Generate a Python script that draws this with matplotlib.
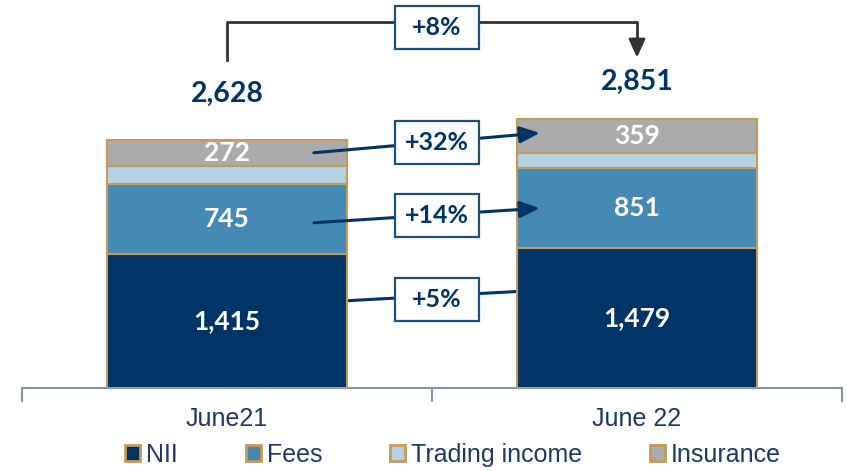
import matplotlib
matplotlib.use("Agg")
import matplotlib.pyplot as plt
from matplotlib.patches import Patch, Rectangle

categories = ["June21", "June 22"]
series_names = ["NII", "Fees", "Trading income", "Insurance"]
nii = [1415, 1479]
fees = [745, 851]
trading = [196, 162]
insurance = [272, 359]
totals = [2628, 2851]
growth_labels = ["+5%", "+14%", "+32%"]
total_growth = "+8%"

colors = ["#003366", "#4589b5", "#b4d2e4", "#ababab"]
edge = "#c49a5a"
navy = "#003366"
text_col = "#1f3864"

plt.rcParams["font.family"] = ["Liberation Sans", "DejaVu Sans"]

fig = plt.figure(figsize=(8.47, 4.71), dpi=100)
ax = fig.add_axes([22 / 847, 83 / 471, 820 / 847, 377.6 / 471])
ax.set_xlim(-0.5, 1.5)
ax.set_ylim(0, 4000)

x = [0, 1]
w = 0.585
series = [nii, fees, trading, insurance]
bottoms = [0, 0]
for vals, c, name in zip(series, colors, series_names):
    ax.bar(x, vals, w, bottom=bottoms, color=c, edgecolor=edge, linewidth=1.5,
           label=name, zorder=3)
    bottoms = [b + v for b, v in zip(bottoms, vals)]

bold = dict(fontweight="bold", family=["Lato", "DejaVu Sans"])
# segment labels
for i in x:
    ax.text(i, nii[i] * 0.5, f"{nii[i]:,}", ha="center", va="center",
            color="white", fontsize=19, zorder=5, **bold)
    ax.text(i, nii[i] + fees[i] * 0.5, f"{fees[i]:,}", ha="center", va="center",
            color="white", fontsize=19, zorder=5, **bold)
    ins_mid = nii[i] + fees[i] + trading[i] + insurance[i] * 0.5
    ax.text(i, ins_mid, f"{insurance[i]:,}", ha="center", va="center",
            color="white", fontsize=19, zorder=5, **bold)

# totals
ax.annotate(f"{totals[0]:,}", (0, totals[0]), xytext=(0, 33), textcoords="offset points",
            ha="center", va="center", color=navy, fontsize=20.5, **bold)
ax.annotate(f"{totals[1]:,}", (1, totals[1]), xytext=(0, 27), textcoords="offset points",
            ha="center", va="center", color=navy, fontsize=20.5, **bold)

bx = 0.512
box_w, box_h = 0.205, 455


def label_box(cx, cy, txt):
    ax.add_patch(Rectangle((cx - box_w / 2, cy - box_h / 2), box_w, box_h, fc="white",
                           ec="#1f4e79", lw=1.6, zorder=6, clip_on=False))
    ax.text(cx, cy, txt, ha="center", va="center", color=navy, fontsize=18,
            zorder=7, **bold)


# bracket
br_top = 3877
ax.plot([0, 0, 1, 1], [3475, br_top, br_top, 3640], color="#333333", lw=2, zorder=2,
        clip_on=False)
ax.annotate("", xy=(1, 3500), xytext=(1, 3660),
            arrowprops=dict(arrowstyle="-|>,head_length=1.1,head_width=0.5",
                            color="#333333", lw=2, shrinkA=0, shrinkB=0),
            annotation_clip=False)
label_box(bx, 3819, total_growth)

# growth arrows
xs, xe = 0.212, 0.763
ins_l = nii[0] + fees[0] + trading[0] + insurance[0] * 0.5
ins_r = nii[1] + fees[1] + trading[1] + insurance[1] * 0.5
fees_l = nii[0] + fees[0] * 0.45
fees_r = nii[1] + fees[1] * 0.5
arrow_kw = dict(arrowstyle="-|>,head_length=1.2,head_width=0.5", color=navy, lw=2.2,
                shrinkA=0, shrinkB=0)
ax.annotate("", xy=(xe, ins_r + 30), xytext=(xs, ins_l), arrowprops=arrow_kw, zorder=4)
ax.annotate("", xy=(xe, fees_r), xytext=(xs, fees_l), arrowprops=arrow_kw, zorder=4)
ax.plot([xs, xe], [nii[0] * 0.64, nii[1] * 0.7], color=navy, lw=2.2, zorder=2)
label_box(bx, (ins_l + ins_r) / 2 + 20, growth_labels[2])
label_box(bx, (fees_l + fees_r) / 2, growth_labels[1])
label_box(bx, (nii[0] * 0.64 + nii[1] * 0.7) / 2 - 30, growth_labels[0])

# axes styling
for s in ["top", "right", "left"]:
    ax.spines[s].set_visible(False)
ax.spines["bottom"].set_color("#8496a8")
ax.spines["bottom"].set_linewidth(1.5)
ax.set_yticks([])
ax.set_xticks(x)
ax.set_xticklabels(categories, fontsize=18, color=text_col)
ax.tick_params(axis="x", which="major", length=0, pad=14)
ax.set_xticks([-0.5, 0.5, 1.5], minor=True)
ax.tick_params(axis="x", which="minor", length=10, width=1.5, color="#8496a8", direction="out")

handles = [Patch(facecolor=c, edgecolor=edge, linewidth=2) for c in colors]
fig.legend(handles, series_names, loc="center", bbox_to_anchor=(453 / 847, 1 - 455 / 471),
           ncol=4, frameon=False, fontsize=18, handlelength=0.6, handleheight=0.6,
           handletextpad=0.25, columnspacing=2.7, labelcolor=text_col,
           borderaxespad=0, borderpad=0)

fig.savefig("out.png", dpi=100)
